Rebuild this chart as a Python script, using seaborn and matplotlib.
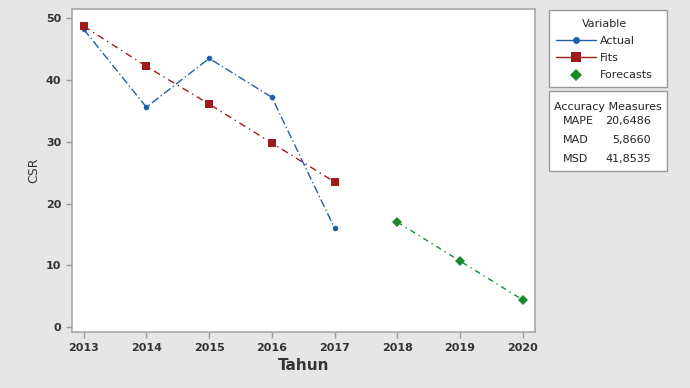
"""Recreate the CSR trend-analysis chart (actual, fits, forecasts)."""
import matplotlib
matplotlib.use("Agg")
import matplotlib.pyplot as plt
import pandas as pd
import seaborn as sns
from matplotlib.lines import Line2D
from matplotlib.patches import Rectangle

years_obs = [2013, 2014, 2015, 2016, 2017]
actual = [48.2, 35.6, 43.5, 37.2, 16.0]
fits = [48.7, 42.2, 36.1, 29.8, 23.5]
years_fc = [2018, 2019, 2020]
forecasts = [17.0, 10.7, 4.4]
accuracy_names = ["MAPE", "MAD", "MSD"]
accuracy_values = ["20,6486", "5,8660", "41,8535"]

colors = {"Actual": "#1f5fa8", "Fits": "#9e1b1b", "Forecasts": "#178a2c"}
markers = {"Actual": "o", "Fits": "s", "Forecasts": "D"}
msize = {"Actual": 4, "Fits": 6, "Forecasts": 5}

df = pd.concat([
    pd.DataFrame({"Tahun": years_obs, "CSR": actual, "Variable": "Actual"}),
    pd.DataFrame({"Tahun": years_obs, "CSR": fits, "Variable": "Fits"}),
    pd.DataFrame({"Tahun": years_fc, "CSR": forecasts, "Variable": "Forecasts"}),
])

sns.set_style("white")
plt.rcParams["font.family"] = ["DejaVu Sans"]

fig = plt.figure(figsize=(6.9, 3.88), dpi=100, facecolor="#e6e6e6")
ax = fig.add_axes([0.104, 0.144, 0.671, 0.833])
ax.set_facecolor("white")

dashes = {"Actual": (6, 2, 1, 2), "Fits": (5, 3, 1, 3), "Forecasts": (4, 3, 1, 3)}
for name, sub in df.groupby("Variable", sort=False):
    sns.lineplot(data=sub, x="Tahun", y="CSR", color=colors[name],
                 marker=markers[name], markersize=msize[name], markeredgewidth=0,
                 linewidth=1.0, ax=ax)
for line, name in zip(ax.get_lines(), ["Actual", "Fits", "Forecasts"]):
    line.set_dashes(dashes[name])

ax.set_xlim(2012.81, 2020.19)
ax.set_ylim(-0.8, 51.5)
ax.set_xticks(range(2013, 2021))
ax.set_yticks([0, 10, 20, 30, 40, 50])
ax.tick_params(axis="both", direction="out", length=4, color="#999999",
               labelsize=8, width=1, left=True, bottom=True)
for lbl in ax.get_xticklabels() + ax.get_yticklabels():
    lbl.set_fontweight("bold")
    lbl.set_color("#333333")
for sp in ax.spines.values():
    sp.set_color("#a8a8a8")
    sp.set_linewidth(1.2)
ax.set_xlabel("Tahun", fontsize=11, fontweight="bold", color="#333333", labelpad=4)
ax.set_ylabel("CSR", fontsize=9, color="#333333", labelpad=4)

# legend box
fw, fh = 690, 388
bx0, bx1, by0, by1 = 549, 667, 10, 87
fig.add_artist(Rectangle((bx0 / fw, 1 - by1 / fh), (bx1 - bx0) / fw, (by1 - by0) / fh,
                         transform=fig.transFigure, facecolor="white",
                         edgecolor="#999999", linewidth=1.0))
handles = [Line2D([0], [0], color=colors[k], marker=markers[k], markersize=msize[k] + 1,
                  markeredgewidth=0, linewidth=1.0 if k != "Forecasts" else 0)
           for k in ["Actual", "Fits", "Forecasts"]]
leg = fig.legend(handles, ["Actual", "Fits", "Forecasts"], title="Variable",
                 loc="upper left", bbox_to_anchor=(548 / fw, 1 - 11 / fh),
                 fontsize=8, title_fontsize=8, frameon=False, handlelength=3.6,
                 borderpad=0.2, labelspacing=0.65, handletextpad=0.4)
leg._legend_box.align = "center"

# accuracy measures box
ax0, ax1, ay0, ay1 = 549, 667, 91, 171
fig.add_artist(Rectangle((ax0 / fw, 1 - ay1 / fh), (ax1 - ax0) / fw, (ay1 - ay0) / fh,
                         transform=fig.transFigure, facecolor="white",
                         edgecolor="#999999", linewidth=1.0))
fig.text((ax0 + ax1) / 2 / fw, 1 - 107 / fh, "Accuracy Measures", ha="center",
         va="center", fontsize=8, color="#222222")
for i, (name, val) in enumerate(zip(accuracy_names, accuracy_values)):
    yy = 1 - (121 + i * 19) / fh
    fig.text(563 / fw, yy, name, ha="left", va="center", fontsize=8, color="#222222")
    fig.text(651 / fw, yy, val, ha="right", va="center", fontsize=8, color="#222222")

fig.savefig("out.png", dpi=100, facecolor=fig.get_facecolor())
plt.close(fig)
